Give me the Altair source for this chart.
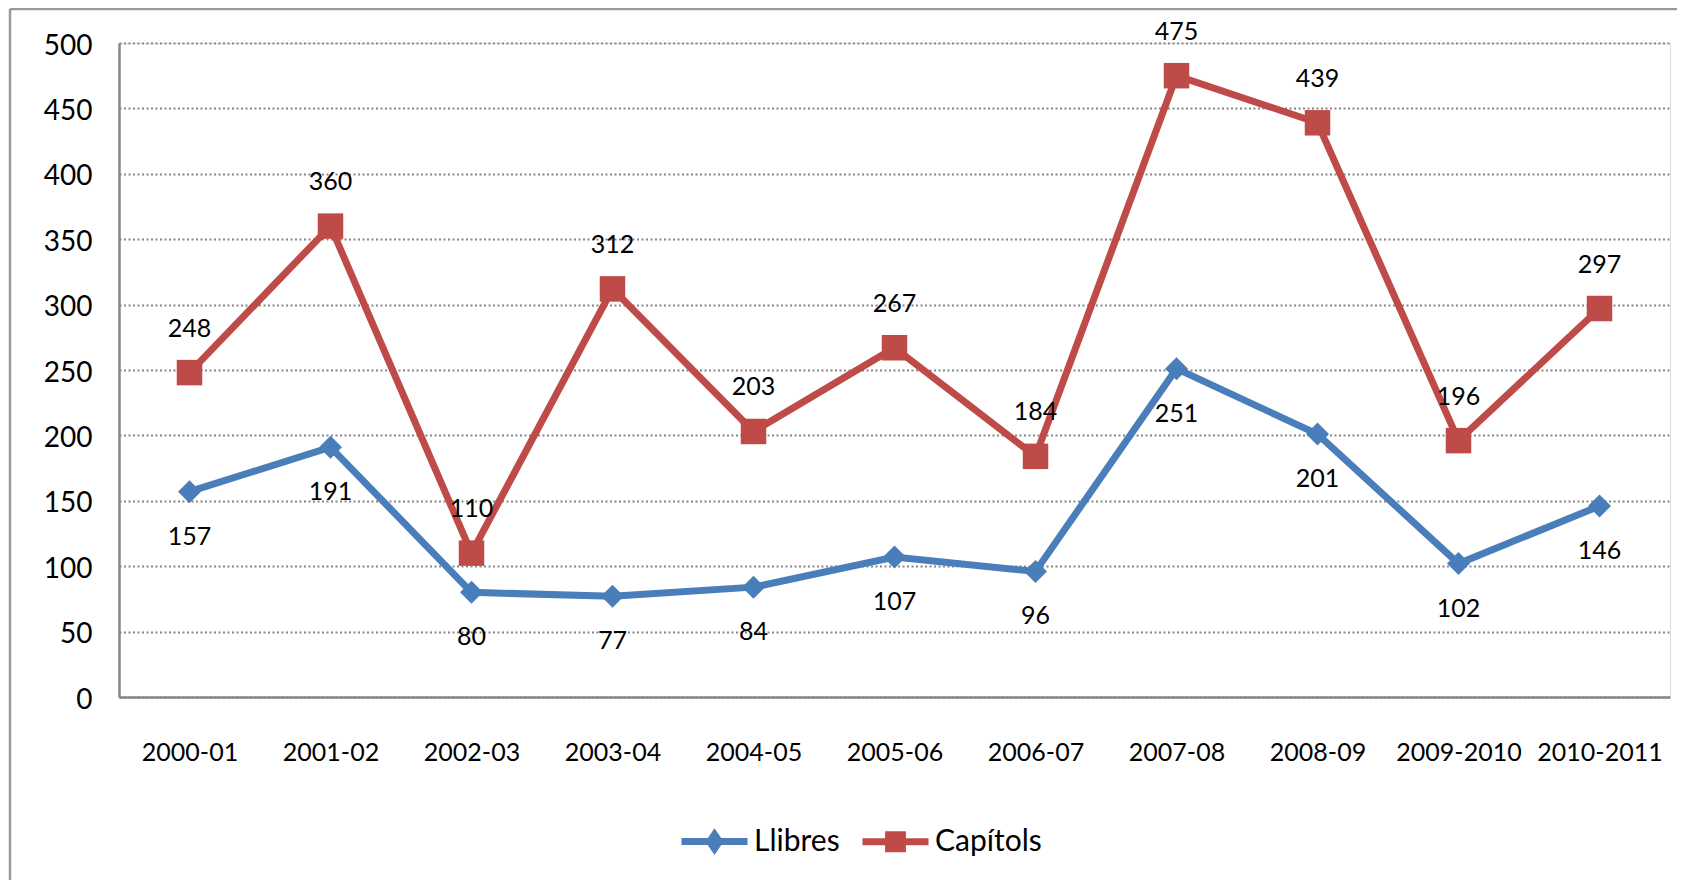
import altair as alt
import pandas as pd

categories = ["2000-01", "2001-02", "2002-03", "2003-04", "2004-05", "2005-06",
              "2006-07", "2007-08", "2008-09", "2009-2010", "2010-2011"]
llibres = [157, 191, 80, 77, 84, 107, 96, 251, 201, 102, 146]
capitols = [248, 360, 110, 312, 203, 267, 184, 475, 439, 196, 297]
series_names = ["Llibres", "Capítols"]
colors = ["#4A7EBB", "#BE4B48"]

df = pd.DataFrame({
    "periode": categories * 2,
    "valor": llibres + capitols,
    "serie": [series_names[0]] * len(categories) + [series_names[1]] * len(categories),
})

W, H = 1551, 654
FONT = "Lato"
AXIS_GRAY = "#868686"

x_enc = alt.X("periode:N", sort=categories,
              scale=alt.Scale(type="point", padding=0.5),
              axis=alt.Axis(title=None, labelAngle=0, labelFontSize=25, labelPadding=43,
                            ticks=False, tickSize=0, domainColor=AXIS_GRAY, domainWidth=2.5,
                            grid=False, labelColor="black", labelFont=FONT))
y_enc = alt.Y("valor:Q", scale=alt.Scale(domain=[0, 500], nice=False),
              axis=alt.Axis(title=None, values=list(range(0, 501, 50)), labelFontSize=28,
                            labelPadding=27, labelOffset=3, ticks=False, tickSize=0,
                            domainColor=AXIS_GRAY, domainWidth=2.5, grid=True,
                            gridColor=AXIS_GRAY, gridDash=[2, 2.5], gridWidth=1.8,
                            labelColor="black", labelFont=FONT))

base = alt.Chart(df)


def series_layers(name, color, shape, size, dy):
    d = base.transform_filter(alt.datum.serie == name)
    line = d.mark_line(color=color, strokeWidth=7).encode(x=x_enc, y=y_enc)
    pts = d.mark_point(shape=shape, size=size, filled=True, color=color, opacity=1).encode(x=x_enc, y=y_enc)
    txt = d.mark_text(dy=dy, fontSize=25, font=FONT, color="black").encode(x=x_enc, y=y_enc, text="valor:Q")
    return [line, pts, txt]


leg_paths = ["M-1,0L1,0M-0.15,0L0,-0.22L0.15,0L0,0.22Z",
             "M-1,0L1,0M-0.21,-0.21L0.21,-0.21L0.21,0.21L-0.21,0.21Z"]
legend = alt.Legend(title=None, orient="none", legendX=559, legendY=762, direction="horizontal",
                    symbolSize=4356, symbolStrokeWidth=7, labelFontSize=30, labelFont=FONT,
                    labelColor="black", labelOffset=3, columnPadding=8, padding=0)
leg = base.mark_point(filled=True, opacity=1).encode(
    x=x_enc, y=y_enc,
    fill=alt.Fill("serie:N", scale=alt.Scale(domain=series_names, range=colors), legend=legend),
    stroke=alt.Stroke("serie:N", scale=alt.Scale(domain=series_names, range=colors), legend=legend),
    shape=alt.Shape("serie:N", scale=alt.Scale(domain=series_names, range=leg_paths), legend=legend),
).transform_filter("false")

frame = alt.Chart(pd.DataFrame({"k": [0]}))
left_border = frame.mark_rule(color="#9a9a9a", strokeWidth=2.5).encode(
    x=alt.value(-109), y=alt.value(-34), y2=alt.value(H + 250))
top_border = frame.mark_rule(color="#9a9a9a", strokeWidth=2.5).encode(
    x=alt.value(-109), x2=alt.value(W + 100), y=alt.value(-34))

layers = (series_layers("Llibres", colors[0], "diamond", 529, 45)
          + series_layers("Capítols", colors[1], "square", 650, -44)
          + [leg, left_border, top_border])

chart = alt.layer(*layers).properties(
    width=W, height=H,
    padding={"left": 111, "top": 35, "right": 7, "bottom": 183},
    autosize=alt.AutoSizeParams(type="none"),
).configure_view(stroke=None).configure(font=FONT)

chart.save("out.html", embed_options={"renderer": "svg", "actions": False})
